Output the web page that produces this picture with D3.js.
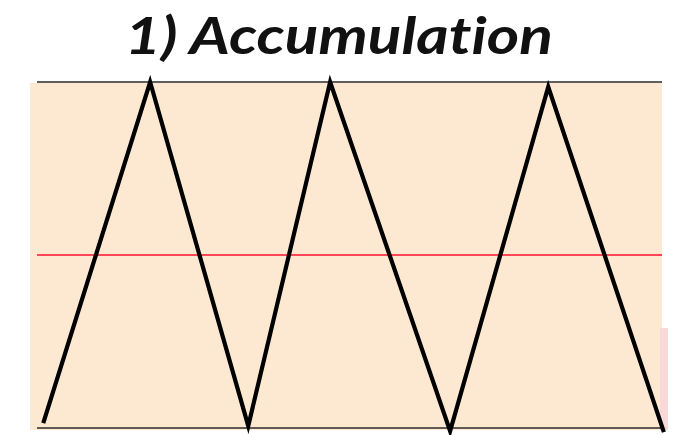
<!DOCTYPE html>
<html><head><meta charset="utf-8">
<script src="https://cdn.jsdelivr.net/npm/d3@7"></script>
<style>html,body{margin:0;padding:0;background:#fff;}svg{display:block;}</style>
</head><body>
<svg id="chart" width="677" height="435"></svg>
<script>
const title = "1) Accumulation";
const xValues = [1, 18.1, 33.8, 46.9, 66.1, 81.8, 100.3];
const yValues = [1.4, 100, 0.6, 100, -0.9, 98.6, -1.2];
const midLevel = [50];
const bounds = [0, 100];

const svg = d3.select("#chart");
const x = d3.scaleLinear().domain([0, 100]).range([37, 662]);
const y = d3.scaleLinear().domain([0, 100]).range([428, 82]);

// background
svg.append("rect").attr("x", 30).attr("y", 83).attr("width", 632).attr("height", 347).attr("fill", "#fde9d2");
svg.append("rect").attr("x", 660).attr("y", 328).attr("width", 8).attr("height", 102).attr("fill", "#f9d8d8");

// top/bottom bounds
svg.selectAll("line.bound").data(bounds).enter().append("line")
  .attr("x1", x(0)).attr("x2", x(100))
  .attr("y1", d => y(d)).attr("y2", d => y(d))
  .attr("stroke", "#2a2a2a").attr("stroke-width", 1.6);

// mid red line
svg.selectAll("line.mid").data(midLevel).enter().append("line")
  .attr("x1", x(0)).attr("x2", x(100))
  .attr("y1", d => y(d)).attr("y2", d => y(d))
  .attr("stroke", "#ff1030").attr("stroke-width", 1.3);

// zigzag
const pts = xValues.map((v, i) => [v, yValues[i]]);
svg.append("path").datum(pts)
  .attr("d", d3.line().x(d => x(d[0])).y(d => y(d[1])))
  .attr("fill", "none").attr("stroke", "#000").attr("stroke-width", 4.2)
  .attr("stroke-linejoin", "miter");

// title
svg.append("text").attr("x", 339).attr("y", 54).attr("text-anchor", "middle")
  .attr("font-family", "Lato, sans-serif").attr("font-style", "italic").attr("font-weight", 700)
  .attr("font-size", 52).attr("fill", "#111")
  .style("font-variant-ligatures", "none").style("font-feature-settings", "'liga' 0, 'clig' 0")
  .attr("textLength", 428).attr("lengthAdjust", "spacingAndGlyphs")
  .text(title);
</script>
</body></html>
